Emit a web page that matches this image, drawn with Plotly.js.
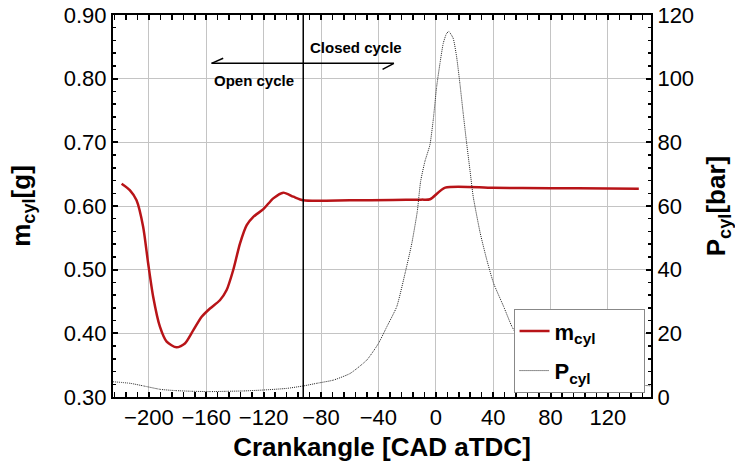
<!DOCTYPE html>
<html>
<head>
<meta charset="utf-8">
<script src="https://cdn.plot.ly/plotly-3.0.1.min.js"></script>
<style>
  html, body { margin: 0; padding: 0; background: #fff; }
  #chart { width: 735px; height: 464px; }
</style>
</head>
<body>
<div id="chart"></div>
<script>
// In-cylinder mass [g] over crank angle
const massAngle = [-219, -213.3, -208.6, -204, -200.5, -197, -192.3, -187.6, -180.7, -174.9,
  -169, -163.2, -157.4, -150.5, -145.8, -141.2, -136.5, -131.8, -127.2, -120.2,
  -113.3, -106.3, -99.3, -92.3, -60, -30, -10, -4, 6.6, 40, 80, 120, 141.5];
const massCyl = [0.635, 0.625, 0.609, 0.5675, 0.510, 0.4576, 0.4105, 0.387, 0.378, 0.384,
  0.405, 0.426, 0.439, 0.452, 0.468, 0.4995, 0.541, 0.570, 0.583, 0.595,
  0.612, 0.621, 0.6146, 0.609, 0.609, 0.6095, 0.610, 0.6106, 0.6288, 0.6285, 0.628, 0.6275, 0.627];

// In-cylinder pressure [bar] over crank angle
const presAngle = [-225, -213, -204, -192, -181, -170, -157, -145, -134, -120,
  -104, -92, -83, -71.4, -59.7, -48.1, -40, -34.1, -27.2, -21.4,
  -16.7, -12.9, -10.6, -7.6, -4.1, -1.8, 0.6, 2.9, 5.2, 7.5,
  9.1, 12.1, 14.5, 16.8, 19.1, 21.5, 23.8, 26.1, 31, 35.6,
  40.3, 47.3, 53.1, 60, 70, 80, 100, 120, 150];
const presCyl = [4.8, 4.3, 3.5, 2.4, 2.0, 1.8, 1.7, 1.8, 1.9, 2.2,
  2.7, 3.5, 4.3, 5.3, 7.4, 11.6, 16.8, 22.1, 28.4, 38.9,
  48.3, 58.3, 67.7, 74, 79.2, 87, 97.5, 104.8, 111.1, 114.2,
  114.8, 112.7, 106.9, 98.5, 89.1, 79.7, 71.3, 62.9, 51.4, 43,
  35.7, 28.4, 22.1, 17, 12, 9, 6, 4.5, 3.5];

const seriesNames = ['m<sub>cyl</sub>', 'P<sub>cyl</sub>'];
const xTitle = 'Crankangle [CAD aTDC]';
const yTitle = 'm<sub>cyl</sub>[g]';
const y2Title = 'P<sub>cyl</sub>[bar]';
const openLabel = 'Open cycle';
const closedLabel = 'Closed cycle';
const ivcAngle = -92.4;   // boundary between open and closed cycle

const FONT = 'Liberation Sans, Arial, sans-serif';
const tickFont = { family: FONT, size: 22, color: '#000' };
const titleFont = { family: FONT, size: 26, color: '#000', weight: 'bold' };
const NBSP = '\u00a0';
const legendPad = NBSP.repeat(7);   // keeps the legend box wide

const traces = [
  {
    x: massAngle, y: massCyl, name: seriesNames[0] + legendPad, type: 'scatter', mode: 'lines',
    line: { color: '#b81418', width: 2.5, shape: 'spline', smoothing: 0.7 },
    yaxis: 'y', legendgroup: 'a'
  },
  {
    x: presAngle, y: presCyl, name: seriesNames[1] + legendPad, type: 'scatter', mode: 'lines',
    line: { color: '#222', width: 1, dash: '1px,1px', shape: 'spline', smoothing: 0.5 },
    yaxis: 'y2', legendgroup: 'b'
  }
];

const axisCommon = {
  showline: true, linecolor: '#000', linewidth: 2,
  ticks: 'inside', ticklen: 5, tickwidth: 2, tickcolor: '#000',
  tickfont: tickFont, zeroline: false
};

const layout = {
  width: 735, height: 464,
  margin: { l: 113, r: 84, t: 15, b: 67 },
  paper_bgcolor: '#fff', plot_bgcolor: '#fff',
  showlegend: true,
  legend: {
    x: 0.988, xanchor: 'right', y: 0.01, yanchor: 'bottom',
    bgcolor: '#fff', bordercolor: '#888', borderwidth: 1,
    font: { family: FONT, size: 22, color: '#000', weight: 'bold' },
    tracegroupgap: 8
  },
  xaxis: Object.assign({}, axisCommon, {
    range: [-225, 150], tickmode: 'linear', tick0: -200, dtick: 40,
    mirror: 'allticks', showgrid: true, gridcolor: '#c4c4c4', gridwidth: 1,
    minor: { dtick: 8, tick0: -200, ticks: 'inside', ticklen: 3, tickwidth: 1.5, tickcolor: '#000', showgrid: false },
    title: { text: xTitle, font: titleFont, standoff: 8 }
  }),
  yaxis: Object.assign({}, axisCommon, {
    range: [0.3, 0.9], tickmode: 'linear', tick0: 0.3, dtick: 0.1, tickformat: '.2f',
    showgrid: true, gridcolor: '#c4c4c4', gridwidth: 1,
    minor: { dtick: 0.02, ticks: 'inside', ticklen: 3, tickwidth: 1.5, tickcolor: '#000', showgrid: false },
    title: { text: yTitle, font: titleFont, standoff: 26 }
  }),
  yaxis2: Object.assign({}, axisCommon, {
    range: [0, 120], tickmode: 'linear', tick0: 0, dtick: 20,
    overlaying: 'y', side: 'right', showgrid: false,
    minor: { dtick: 4, ticks: 'inside', ticklen: 3, tickwidth: 1.5, tickcolor: '#000', showgrid: false },
    title: { text: y2Title, font: titleFont, standoff: 14 }
  }),
  shapes: [
    // open/closed cycle boundary
    { type: 'line', xref: 'x', yref: 'paper', x0: ivcAngle, x1: ivcAngle, y0: 0, y1: 1,
      line: { color: '#000', width: 1.5 } },
    // double arrow with half barbs
    { type: 'line', xref: 'x', yref: 'y', x0: -156.3, x1: -29.2, y0: 0.8241, y1: 0.8241,
      line: { color: '#000', width: 1.5 } },
    { type: 'line', xref: 'x', yref: 'y', x0: -156.3, x1: -148.2, y0: 0.8241, y1: 0.832,
      line: { color: '#000', width: 1.5 } },
    { type: 'line', xref: 'x', yref: 'y', x0: -29.2, x1: -37.1, y0: 0.8241, y1: 0.8147,
      line: { color: '#000', width: 1.5 } }
  ],
  annotations: [
    { text: closedLabel, xref: 'x', yref: 'y', x: -89, y: 0.8497, xanchor: 'left', yanchor: 'middle',
      showarrow: false, font: { family: FONT, size: 15, color: '#000', weight: 'bold' } },
    { text: openLabel, xref: 'x', yref: 'y', x: -156, y: 0.7968, xanchor: 'left', yanchor: 'middle',
      showarrow: false, font: { family: FONT, size: 15, color: '#000', weight: 'bold' } }
  ]
};

Plotly.newPlot('chart', traces, layout, { displayModeBar: false, staticPlot: true });
</script>
</body>
</html>
